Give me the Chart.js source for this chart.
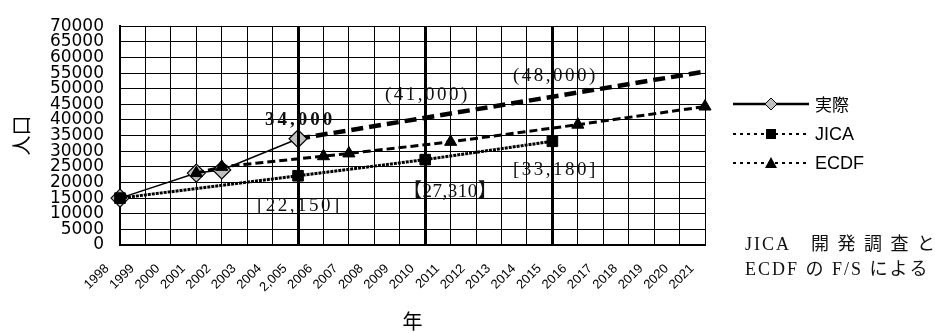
<!DOCTYPE html>
<html>
<head>
<meta charset="utf-8">
<script src="https://cdn.jsdelivr.net/npm/chart.js@4.4.1/dist/chart.umd.min.js"></script>
<style>
  html, body { margin: 0; padding: 0; background: #fff; }
  #wrap { width: 935px; height: 333px; position: relative; }
</style>
</head>
<body>
<div id="wrap"><canvas id="popChart"></canvas></div>
<script>
// categories (as printed on the axis, including the odd "2,005")
const years = ['1998', '1999', '2000', '2001', '2002', '2003', '2004', '2,005',
  '2006', '2007', '2008', '2009', '2010', '2011', '2012', '2013',
  '2014', '2015', '2016', '2017', '2018', '2019', '2020', '2021'];

// series values, null where the series has no point
const actual = [15000, null, null, 23000, 24000, null, null, 34000,
  null, null, null, null, null, null, null, null,
  null, null, null, null, null, null, null, null];
const actualTrend = [null, null, null, null, null, null, null, 34000,
  null, null, null, null, null, null, null, null,
  null, null, null, null, null, null, null, 55500];
const jica = [15000, null, null, null, null, null, null, 22150,
  null, null, null, null, 27310, null, null, null,
  null, 33180, null, null, null, null, null, null];
const ecdf = [null, null, null, 23000, 25000, null, null, null,
  28400, 29300, null, null, null, 33000, null, null,
  null, null, 38500, null, null, null, null, 44300];

// category positions of the heavy vertical lines
const markIdx = [7, 12, 17];

const serif = '"Liberation Serif", "DejaVu Serif", "Noto Sans CJK JP", serif';
const sans = '"Liberation Sans", Arial, sans-serif';
const jp = '"Noto Sans CJK JP", sans-serif';

// draws the heavy lines, value notes, legend and source note
const extras = {
  id: 'extras',
  afterDatasetsDraw(chart) {
    const ctx = chart.ctx;
    const xs = chart.scales.x;
    const area = chart.chartArea;
    ctx.save();
    ctx.strokeStyle = '#000';
    ctx.lineWidth = 3;
    markIdx.forEach(i => {
      const px = Math.round(xs.getPixelForValue(i)) + 0.5;
      ctx.beginPath();
      ctx.moveTo(px, area.top);
      ctx.lineTo(px, area.bottom);
      ctx.stroke();
    });
    ctx.restore();
  },
  afterDraw(chart) {
    const ctx = chart.ctx;
    const txt = (s, x, y, font, spacing) => {
      ctx.save();
      ctx.font = font;
      ctx.fillStyle = '#111';
      ctx.textBaseline = 'middle';
      ctx.letterSpacing = spacing + 'px';
      ctx.fillText(s, x, y);
      ctx.restore();
    };
    txt('34,000', 265, 120, 'bold 19px ' + serif, 3);
    txt('(41,000)', 385, 95, '19px ' + serif, 2.5);
    txt('(48,000)', 513, 76, '19px ' + serif, 2.5);
    txt('[22,150]', 257, 206, '19px ' + serif, 2.5);
    txt('【27,310】', 403, 192, '19px ' + serif, 0.5);
    txt('[33,180]', 513, 170, '19px ' + serif, 2.5);

    // legend
    const rows = [
      { label: '実際', y: 104, dash: [], w: 2.5, shape: 'diamond', font: '17px ' + jp },
      { label: 'JICA', y: 134, dash: [3, 4], w: 2, shape: 'square', font: '18px ' + sans },
      { label: 'ECDF', y: 163, dash: [3, 4], w: 2, shape: 'triangle', font: '18px ' + sans }
    ];
    rows.forEach(r => {
      ctx.save();
      ctx.strokeStyle = '#000';
      ctx.lineWidth = r.w;
      ctx.setLineDash(r.dash);
      ctx.beginPath();
      ctx.moveTo(733, r.y);
      ctx.lineTo(809, r.y);
      ctx.stroke();
      ctx.setLineDash([]);
      ctx.lineWidth = 1;
      ctx.beginPath();
      const cx = 771, cy = r.y;
      if (r.shape === 'diamond') {
        ctx.moveTo(cx, cy - 6); ctx.lineTo(cx + 6, cy); ctx.lineTo(cx, cy + 6); ctx.lineTo(cx - 6, cy);
        ctx.closePath();
        ctx.fillStyle = '#c0c0c0';
        ctx.fill();
        ctx.stroke();
      } else if (r.shape === 'square') {
        ctx.rect(cx - 5, cy - 5, 10, 10);
        ctx.fillStyle = '#000';
        ctx.fill();
      } else {
        ctx.moveTo(cx, cy - 6); ctx.lineTo(cx + 6, cy + 5); ctx.lineTo(cx - 6, cy + 5);
        ctx.closePath();
        ctx.fillStyle = '#000';
        ctx.fill();
      }
      ctx.fillStyle = '#000';
      ctx.font = r.font;
      ctx.textBaseline = 'middle';
      ctx.fillText(r.label, 815, r.y + 1);
      ctx.restore();
    });

    // source note
    txt('JICA　開 発 調 査 と', 745, 245, '18px ' + serif, 2);
    txt('ECDF の F/S による', 745, 270, '18px ' + serif, 2);
  }
};

new Chart(document.getElementById('popChart'), {
  type: 'line',
  data: {
    labels: years,
    datasets: [
      {
        label: '実際',
        data: actual,
        borderColor: '#000',
        borderWidth: 1.5,
        pointStyle: 'rectRot',
        pointRadius: 9,
        pointBackgroundColor: '#c0c0c0',
        pointBorderColor: '#000',
        pointBorderWidth: 1.2,
        spanGaps: true,
        order: 3
      },
      {
        label: 'trend',
        data: actualTrend,
        borderColor: '#000',
        borderWidth: 4.5,
        borderDash: [12, 6],
        pointRadius: 0,
        spanGaps: true,
        order: 4
      },
      {
        label: 'JICA',
        data: jica,
        borderColor: '#000',
        borderWidth: 3,
        borderDash: [3, 1],
        pointStyle: 'rect',
        pointRadius: 7.5,
        pointBackgroundColor: '#000',
        pointBorderColor: '#000',
        pointBorderWidth: 1,
        spanGaps: true,
        order: 2
      },
      {
        label: 'ECDF',
        data: ecdf,
        borderColor: '#000',
        borderWidth: 3,
        borderDash: [8, 4],
        pointStyle: 'triangle',
        pointRadius: 7,
        pointBackgroundColor: '#000',
        pointBorderColor: '#000',
        pointBorderWidth: 1,
        spanGaps: true,
        order: 1
      }
    ]
  },
  options: {
    responsive: true,
    maintainAspectRatio: false,
    animation: false,
    layout: { padding: { top: 18, right: 230, left: 0, bottom: 0 } },
    plugins: {
      legend: { display: false },
      tooltip: { enabled: false }
    },
    scales: {
      x: {
        offset: false,
        ticks: {
          autoSkip: false,
          minRotation: 45,
          maxRotation: 45,
          padding: 16,
          labelOffset: -13,
          color: '#000',
          font: { family: sans, size: 13 }
        },
        grid: { color: '#000', lineWidth: 1, drawTicks: false },
        border: { color: '#000', width: 2 },
        title: {
          display: true,
          text: '年',
          color: '#000',
          font: { family: jp, size: 20 },
          padding: { top: 0, bottom: 0 }
        },
        afterFit: s => { s.height = 88; }
      },
      y: {
        min: 0,
        max: 70000,
        ticks: {
          stepSize: 5000,
          autoSkip: false,
          padding: 16,
          color: '#000',
          font: { family: '"DejaVu Sans", sans-serif', size: 17 },
          callback: v => String(v)
        },
        grid: { color: '#000', lineWidth: 1, drawTicks: false },
        border: { color: '#000', width: 2 },
        title: {
          display: true,
          text: '人口',
          color: '#000',
          font: { family: jp, size: 20 },
          padding: { top: 9, bottom: 0 }
        },
        afterFit: s => { s.width = 120; }
      }
    }
  },
  plugins: [extras]
});
</script>
</body>
</html>
